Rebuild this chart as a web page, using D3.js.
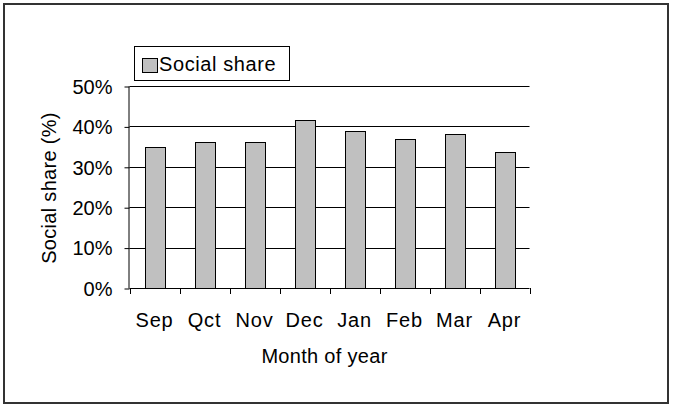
<!DOCTYPE html>
<html>
<head>
<meta charset="utf-8">
<script src="https://cdn.jsdelivr.net/npm/d3@7/dist/d3.min.js"></script>
<style>
  html, body { margin: 0; padding: 0; background: #fff; }
  svg { display: block; font-family: "Liberation Sans", Arial, sans-serif; }
</style>
</head>
<body>
<svg id="chart" width="673" height="406"></svg>
<script>
// Monthly social share
const months = ["Sep", "Qct", "Nov", "Dec", "Jan", "Feb", "Mar", "Apr"];
const socialShare = [0.348, 0.361, 0.361, 0.415, 0.388, 0.368, 0.381, 0.336];
const yTicks = [0, 0.1, 0.2, 0.3, 0.4, 0.5];
const seriesName = "Social share";
const xTitle = "Month of year";
const yTitle = "Social share (%)";

const svg = d3.select("#chart");

// outer frame
svg.append("rect")
  .attr("x", 4).attr("y", 4)
  .attr("width", 664).attr("height", 399)
  .attr("fill", "#fff")
  .attr("stroke", "#333").attr("stroke-width", 2);

const plot = { left: 129.5, right: 529.5, top: 86, bottom: 288 };

const x = d3.scaleBand()
  .domain(months)
  .range([plot.left, plot.right])
  .paddingInner(0.6)
  .paddingOuter(0.3);

const y = d3.scaleLinear()
  .domain([0, 0.5])
  .range([plot.bottom, plot.top]);

// horizontal gridlines
svg.append("g")
  .selectAll("line")
  .data(yTicks.filter(d => d > 0))
  .join("line")
  .attr("x1", plot.left).attr("x2", plot.right)
  .attr("y1", d => Math.round(y(d)) + 0.5)
  .attr("y2", d => Math.round(y(d)) + 0.5)
  .attr("stroke", "#000").attr("stroke-width", 1);

// bars
svg.append("g")
  .selectAll("rect")
  .data(months.map((m, i) => ({ m, v: socialShare[i] })))
  .join("rect")
  .attr("x", d => Math.round(x(d.m)) + 0.5)
  .attr("y", d => Math.round(y(d.v)) + 0.5)
  .attr("width", Math.round(x.bandwidth()))
  .attr("height", d => Math.round(y(0)) - Math.round(y(d.v)))
  .attr("fill", "#c0c0c0")
  .attr("stroke", "#000").attr("stroke-width", 1);

// y axis
const yAxis = d3.axisLeft(y)
  .tickValues(yTicks)
  .tickFormat(d3.format(".0%"))
  .tickSize(5)
  .tickPadding(12);

const gy = svg.append("g")
  .attr("transform", `translate(${plot.left},0.5)`)
  .call(yAxis);
gy.select(".domain").attr("stroke", "#000").attr("d", `M-0.5,${plot.top}V${plot.bottom}`);
gy.selectAll(".tick line").attr("stroke", "#000");
gy.selectAll(".tick text")
  .attr("fill", "#000")
  .attr("font-size", 20)
  .attr("font-family", "Liberation Sans, Arial, sans-serif")
  .attr("dy", "0.34em");

// x axis: ticks at category boundaries
const boundaries = months.map(m => x(m) - x.step() * x.paddingInner() / 2)
  .concat([plot.right]);
const gx = svg.append("g");
gx.append("line")
  .attr("x1", plot.left).attr("x2", plot.right)
  .attr("y1", plot.bottom + 0.5).attr("y2", plot.bottom + 0.5)
  .attr("stroke", "#000");
gx.selectAll("line.tick")
  .data(boundaries)
  .join("line")
  .attr("class", "tick")
  .attr("x1", d => Math.round(d) + 0.5).attr("x2", d => Math.round(d) + 0.5)
  .attr("y1", plot.bottom).attr("y2", plot.bottom + 6)
  .attr("stroke", "#000");
gx.selectAll("text")
  .data(months)
  .join("text")
  .attr("x", d => x(d) + x.bandwidth() / 2)
  .attr("y", 326.5)
  .attr("text-anchor", "middle")
  .attr("font-size", 20)
  .attr("letter-spacing", 0.8)
  .attr("fill", "#000")
  .text(d => d);

// axis titles
svg.append("text")
  .attr("x", (plot.left + plot.right) / 2 - 5)
  .attr("y", 362.5)
  .attr("text-anchor", "middle")
  .attr("font-size", 20)
  .attr("letter-spacing", 0.3)
  .attr("fill", "#000")
  .text(xTitle);

svg.append("text")
  .attr("transform", "translate(56,188) rotate(-90)")
  .attr("text-anchor", "middle")
  .attr("font-size", 20)
  .attr("letter-spacing", 0.3)
  .attr("fill", "#000")
  .text(yTitle);

// legend
const lg = svg.append("g");
lg.append("rect")
  .attr("x", 134.5).attr("y", 46.5)
  .attr("width", 155).attr("height", 34)
  .attr("fill", "#fff").attr("stroke", "#000");
lg.append("rect")
  .attr("x", 142.5).attr("y", 58.5)
  .attr("width", 15).attr("height", 14)
  .attr("fill", "#c0c0c0").attr("stroke", "#000");
lg.append("text")
  .attr("x", 159).attr("y", 71)
  .attr("font-size", 20)
  .attr("letter-spacing", 0.6)
  .attr("fill", "#000")
  .text(seriesName);
</script>
</body>
</html>
